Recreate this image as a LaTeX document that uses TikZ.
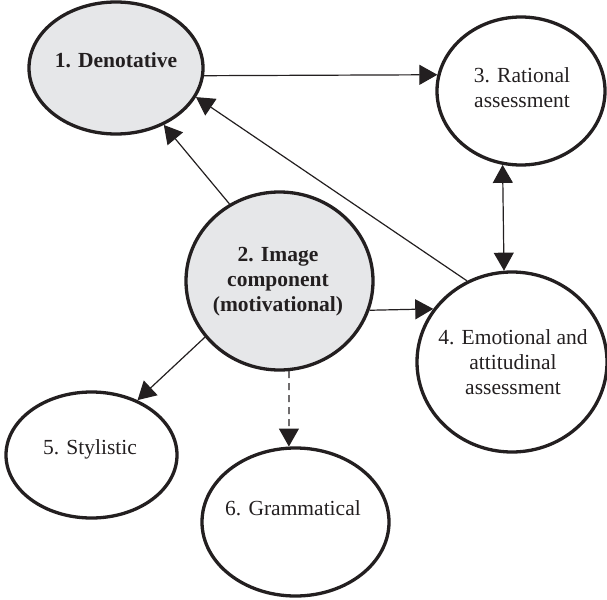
\documentclass[tikz,border=0pt]{standalone}
\usepackage{fontspec}
\setmainfont{Liberation Serif}
\usetikzlibrary{shapes.geometric,arrows.meta}
\definecolor{fillgray}{HTML}{E6E7E9}
\definecolor{ink}{HTML}{231F20}
\begin{document}
\begin{tikzpicture}[x=1pt,y=-1pt,
  bub/.style={ellipse,draw=ink,line width=3.3pt,inner sep=0pt},
  shaded/.style={fill=fillgray},
  lab/.style={font=\fontsize{21.5}{25}\selectfont,text=ink,align=center,inner sep=0pt},
  arr/.style={draw=ink,line width=1.2pt,-{Triangle[length=18pt,width=20pt]}},
  darr/.style={arr,{Triangle[length=18pt,width=20pt]}-{Triangle[length=18pt,width=20pt]}},
  dsh/.style={arr,dash pattern=on 7pt off 5pt}]
\useasboundingbox (0,0) rectangle (607,599);
\node[bub,shaded,minimum width=174pt,minimum height=132pt] (e1) at (116,68) {};
\node[bub,minimum width=168pt,minimum height=148pt] (e3) at (521,91) {};
\node[bub,shaded,minimum width=187pt,minimum height=178pt] (e2) at (279.5,281) {};
\node[bub,minimum width=190pt,minimum height=180pt] (e4) at (512,362) {};
\node[bub,minimum width=171pt,minimum height=126pt] (e5) at (91.5,455) {};
\node[bub,minimum width=187pt,minimum height=148pt] (e6) at (295.5,522) {};
\node[lab,font=\fontsize{21.5}{25}\selectfont\bfseries] (t1) at (116,60) {1. Denotative};
\node[lab] (t3) at (522,88) {3. Rational\\assessment};
\node[lab,font=\fontsize{21.5}{25}\selectfont\bfseries] (t2) at (278,282) {2. Image\\component\\(motivational)};
\node[lab] (t4) at (513,362) {4. Emotional and\\attitudinal\\assessment};
\node[lab] (t5) at (90,449) {5. Stylistic};
\node[lab] (t6) at (293,508) {6. Grammatical};
\draw[arr] (e1.-5.3) -- (e3.169.8);
\draw[arr] (e2.123) -- (e1.-50.5);
\draw[arr] (e4.119.8) -- (e1.-20);
\draw[arr] (e2.-18.2) -- (e4.146.4);
\draw[darr] (e3.-104) -- (e4.95.7);
\draw[arr] (e2.217.4) -- (e5.50.9);
\draw[dsh] (e2.-84) -- (e6.95);
\end{tikzpicture}
\end{document}
